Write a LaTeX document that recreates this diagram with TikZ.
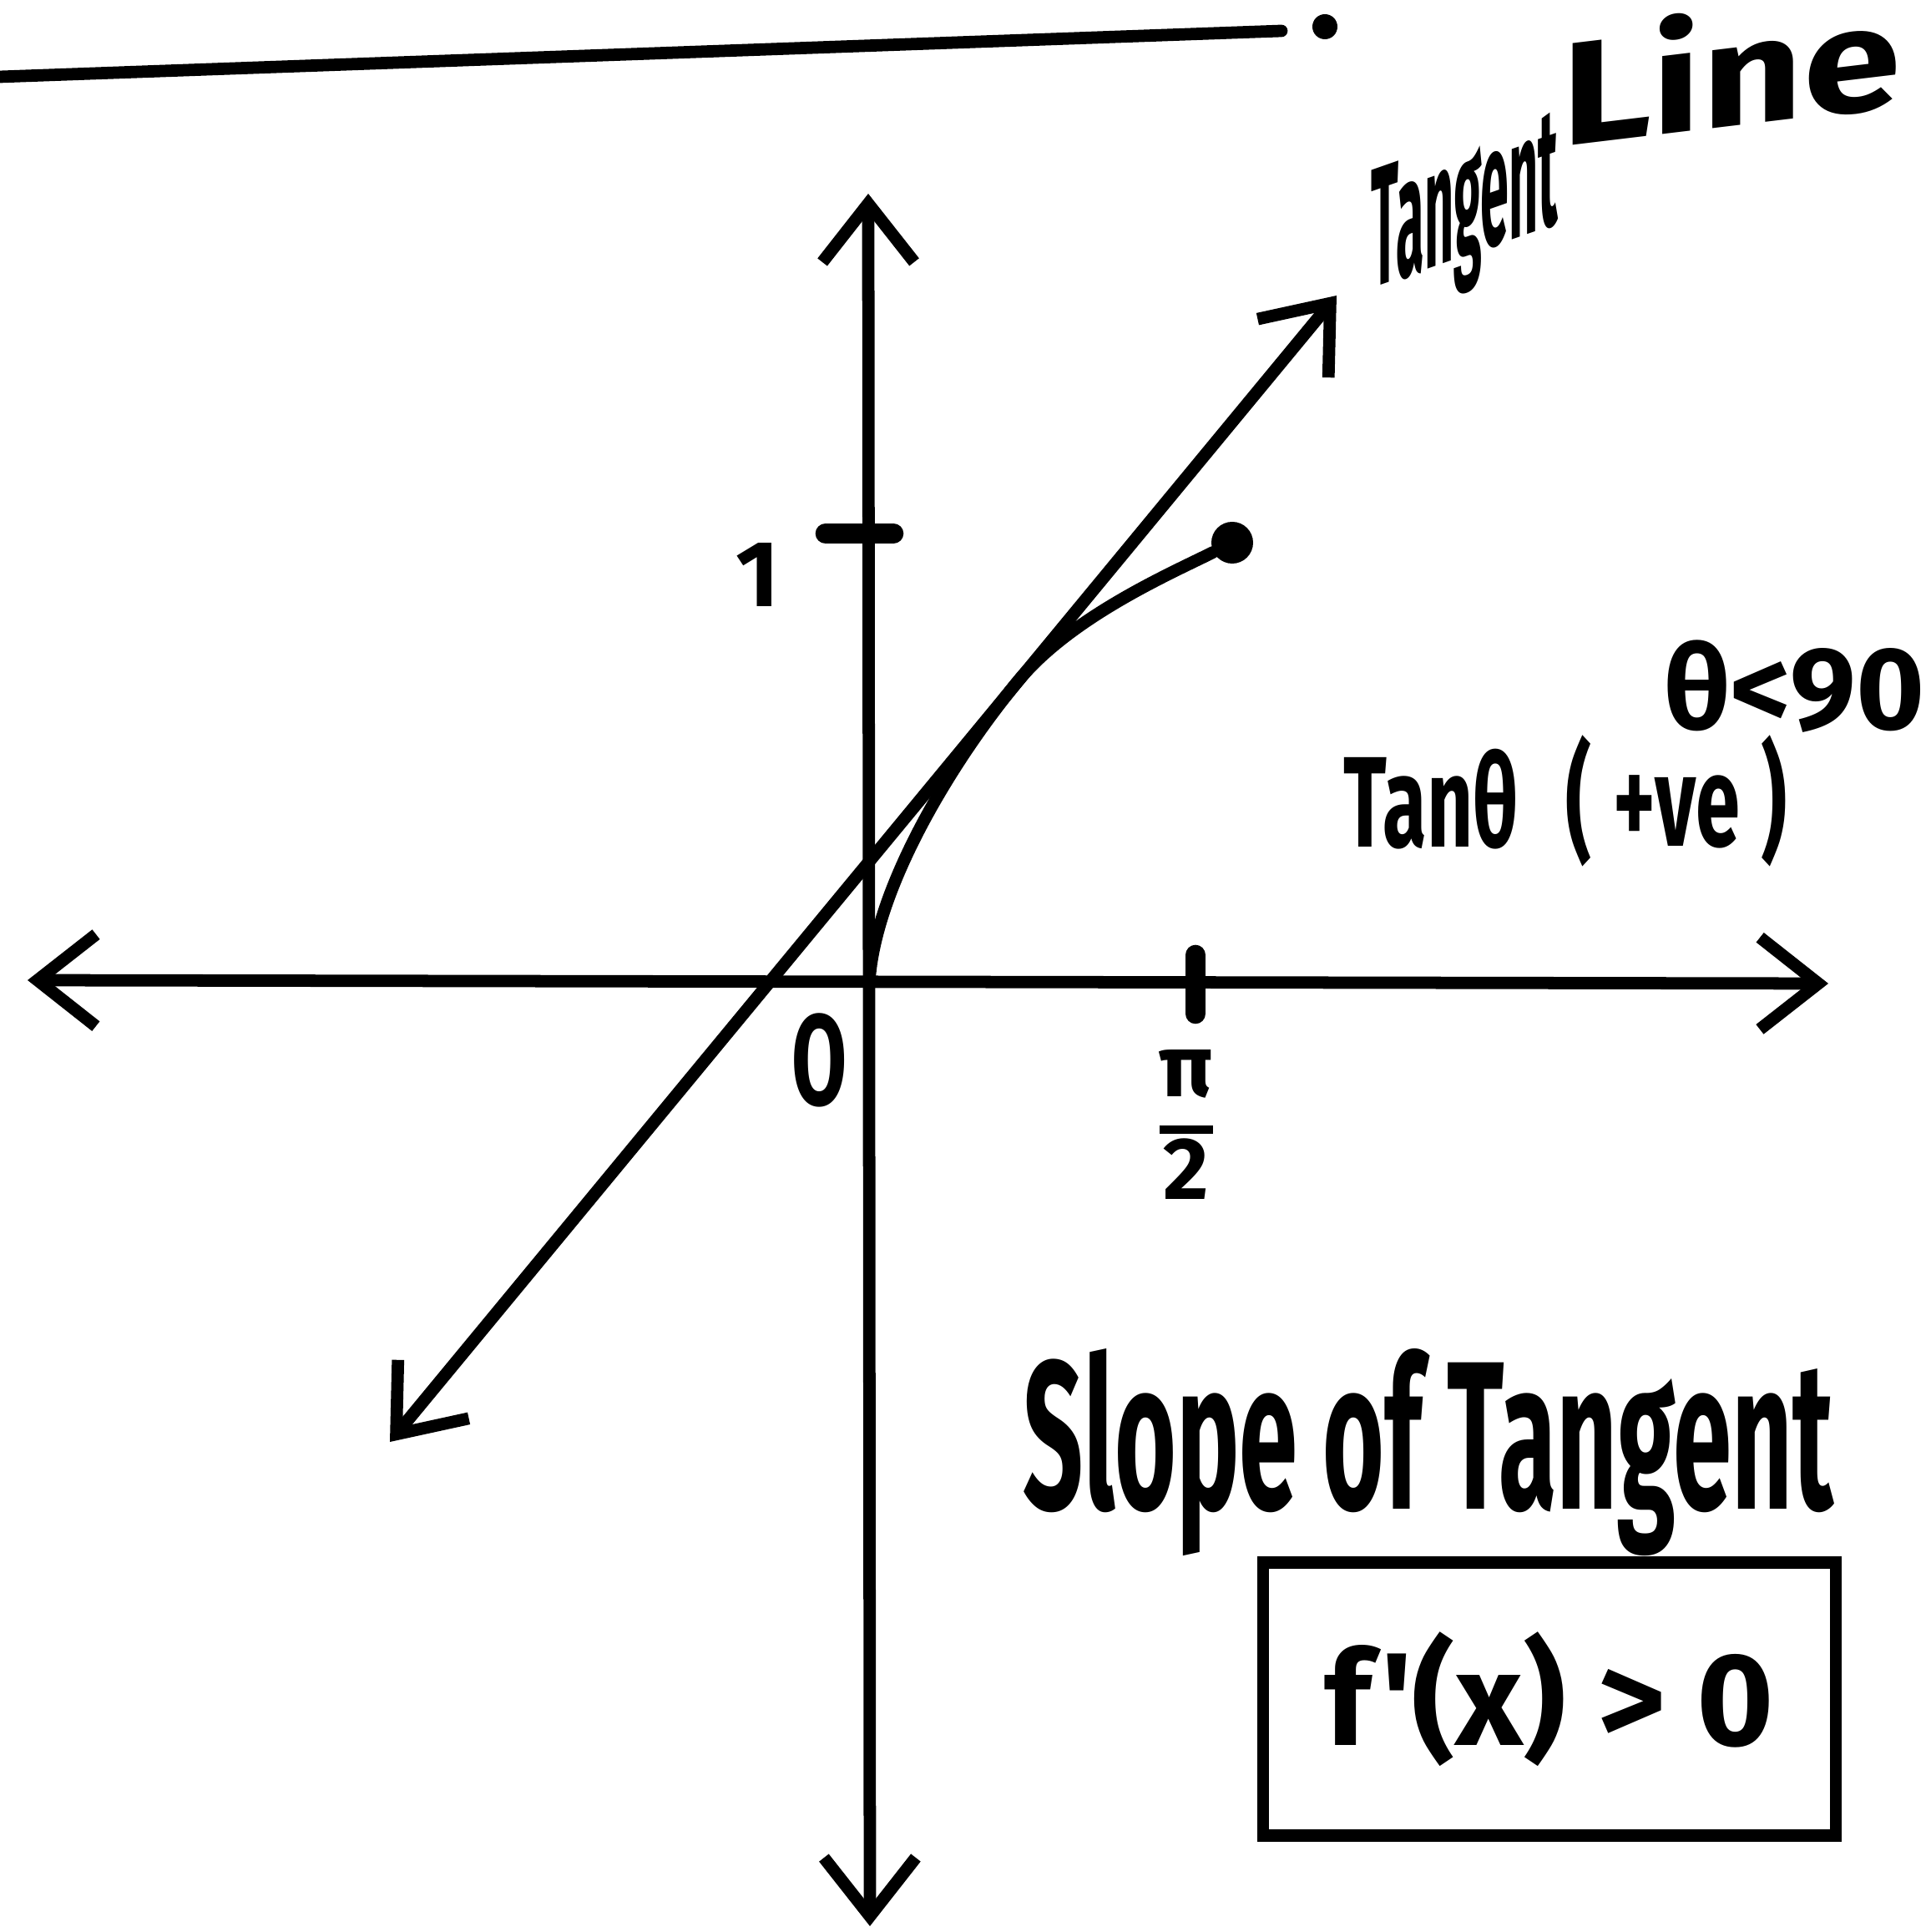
\documentclass[tikz,border=0pt]{standalone}
\usepackage{fontspec}
\newfontfamily\handfont{Fira Sans}
\newfontfamily\narrowfont[FakeStretch=0.62]{Fira Sans}
\newfontfamily\condfont[FakeStretch=0.5]{Fira Sans}
\newfontfamily\tightfont[FakeStretch=0.3]{Fira Sans}
\newfontfamily\widefont[FakeStretch=1.2]{Fira Sans}
\usetikzlibrary{arrows.meta,positioning,calc}

\begin{document}
\begin{tikzpicture}[
    axis/.style={{Straight Barb[length=7mm,width=11mm]}-{Straight Barb[length=7mm,width=11mm]}, line width=4.2pt, line cap=round, line join=round},
    curve/.style={line width=4.2pt, line cap=round},
    tick/.style={line width=7pt, line cap=round},
    dot/.style={circle, fill=black, inner sep=0pt, minimum size=5mm},
    lbl/.style={inner sep=0pt, font=\narrowfont\bfseries\fontsize{44}{48}\selectfont},
    box/.style={draw, line width=4.2pt, rectangle, minimum width=6.86cm, minimum height=3.27cm, font=\handfont\bfseries\fontsize{45}{50}\selectfont}
]

\useasboundingbox (0,0) rectangle (23.13,23.14);
\clip (0,0) rectangle (23.13,23.14);

% Points
\coordinate (o) at (10.41,11.33);
\coordinate (xl) at (0.33,11.40);
\coordinate (xr) at (21.90,11.36);
\coordinate (yt) at (10.40,20.82);
\coordinate (yb) at (10.42,0.07);
\coordinate (tl) at (4.67,5.87);
\coordinate (tr) at (16.01,19.60);
\coordinate (m) at (12.20,14.99);
\coordinate (one) at (10.40,16.75);
\coordinate (half) at (14.32,11.35);
\coordinate (rl) at (0,22.22);
\coordinate (rr) at (15.35,22.77);
\node[dot] (pt) at (14.76,16.64) {};

% Axes and tangent
\draw[axis] (xl) -- (xr);
\draw[axis] (yb) -- (yt);
\draw[axis] (tl) -- (tr);

% Curve
\draw[curve] (o) .. controls (10.45,12.40) and (11.31,13.91) .. (m)
    .. controls (12.84,15.76) and (14.04,16.28) .. (pt);

% Ticks
\draw[tick] ($(one)+(-0.51,0)$) -- ($(one)+(0.30,0)$);
\draw[tick] ($(half)+(0,-0.35)$) -- ($(half)+(0,0.35)$);

% Axis labels
\node[lbl, font=\handfont\bfseries\fontsize{32}{32}\selectfont] (lone) at (9.08,16.26) {1};
\node[lbl] (lo) at (9.82,10.44) {O};
\node[lbl, font=\handfont\bfseries\fontsize{30}{32}\selectfont] (lpi) at (14.21,9.61)
    {\setlength{\arrayrulewidth}{3pt}\begin{tabular}{@{}c@{}}π\\\hline 2\end{tabular}};

% Notes
\node[lbl, anchor=base west, yslant=0.35, font=\tightfont\bfseries\fontsize{58}{62}\selectfont] (tang) at (16.42,19.68) {Tangent};
\node[lbl, anchor=base west, yslant=0.12, font=\widefont\bfseries\fontsize{50}{54}\selectfont] (line) at (18.70,21.38) {Line};
\node[lbl, anchor=base west] (tan) at (16.09,12.99) {Tanθ};
\node[lbl, anchor=base west] (pos) at (18.75,13.00) {(\,+ve\,)};
\node[lbl, anchor=base west, font=\handfont\bfseries\fontsize{40}{44}\selectfont] (ang) at (19.93,14.40) {θ<90};
\node[lbl, anchor=base west, font=\condfont\bfseries\fontsize{72}{76}\selectfont] (slope) at (12.25,5.06) {Slope of Tangent};
\node[box] (cond) at (18.56,2.79) {f'(x) > 0};

% Top rule
\draw[curve] (rl) -- (rr);
\node[dot, minimum size=3mm] (stop) at (15.87,22.82) {};

\end{tikzpicture}
\end{document}
